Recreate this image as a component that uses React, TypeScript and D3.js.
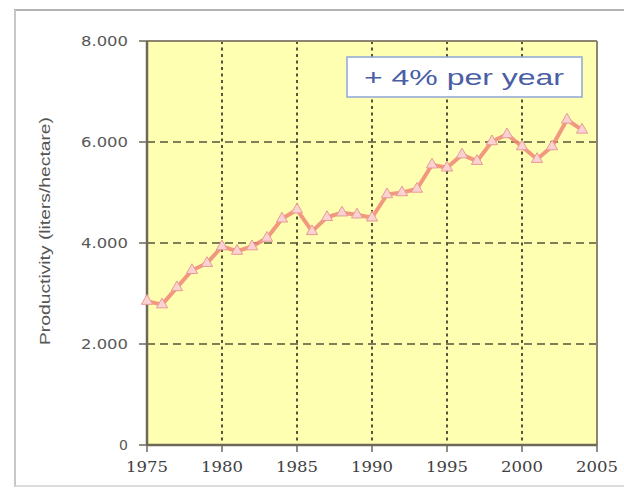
import React from "react";
import * as d3 from "d3";

const years = [1975,1976,1977,1978,1979,1980,1981,1982,1983,1984,1985,1986,1987,1988,1989,1990,1991,1992,1993,1994,1995,1996,1997,1998,1999,2000,2001,2002,2003,2004];
const productivity = [2850,2780,3120,3460,3600,3930,3840,3930,4100,4480,4660,4230,4510,4600,4560,4500,4960,5000,5070,5550,5490,5750,5620,6010,6150,5910,5660,5910,6440,6240];
const xTicks = [1975,1980,1985,1990,1995,2000,2005];
const yTicks = [0,2000,4000,6000,8000];
const yTickLabels = ["0","2.000","4.000","6.000","8.000"];
const yTitle = "Productivity (liters/hectare)";
const legendText = "+ 4% per year";

export default function App() {
  const W = 624, H = 488;
  const left = 147, right = 597, top = 41, bottom = 445;
  const x = d3.scaleLinear().domain([1975, 2005]).range([left, right]);
  const y = d3.scaleLinear().domain([0, 8000]).range([bottom, top]);
  const pts = years.map((yr, i) => [x(yr), y(productivity[i])] as [number, number]);
  const line = d3.line()(pts) || "";
  const tri = d3.symbol().type(d3.symbolTriangle).size(55)() || "";
  const grid = "#55553a";
  return (
    <svg width={W} height={H} style={{ position: "absolute", left: 0, top: 0, background: "#fff" }}>
      {/* outer frame */}
      <line x1={14} x2={624} y1={10} y2={10} stroke="#b4b4b4" strokeWidth={2} />
      <line x1={15} x2={15} y1={10} y2={487} stroke="#c8c8c8" strokeWidth={2} />
      <line x1={14} x2={624} y1={486} y2={486} stroke="#d0d0d0" strokeWidth={1.5} />
      {/* plot area */}
      <rect x={left} y={top} width={right - left} height={bottom - top} fill="#ffffb2" />
      {/* grid */}
      {yTicks.filter(t => t > 0 && t < 8000).map(t => (
        <line key={"h" + t} x1={left} x2={right} y1={y(t)} y2={y(t)} stroke={grid} strokeWidth={1.6} strokeDasharray="8,5" />
      ))}
      {xTicks.filter(t => t > 1975 && t < 2005).map(t => (
        <line key={"v" + t} x1={x(t)} x2={x(t)} y1={top} y2={bottom} stroke={grid} strokeWidth={2} strokeDasharray="3,3.5" />
      ))}
      {/* frame of plot */}
      <line x1={left} x2={right} y1={top} y2={top} stroke="#8c8670" strokeWidth={2} />
      <line x1={right} x2={right} y1={top} y2={bottom} stroke="#8c8670" strokeWidth={2} />
      <line x1={left} x2={left} y1={top} y2={bottom} stroke="#6e6858" strokeWidth={2.5} />
      <line x1={left} x2={right} y1={bottom} y2={bottom} stroke="#6e6858" strokeWidth={2.5} />
      {/* ticks */}
      {yTicks.map((t, i) => (
        <g key={"yt" + t}>
          <line x1={left - 8} x2={left} y1={y(t)} y2={y(t)} stroke="#6e6858" strokeWidth={1.5} />
          <text x={128} y={y(t) + 5} textAnchor="end" fontFamily="DejaVu Sans" fontSize={14} fill="#585858"
            textLength={yTickLabels[i].length > 1 ? 47 : undefined} lengthAdjust="spacingAndGlyphs">{yTickLabels[i]}</text>
        </g>
      ))}
      {xTicks.map(t => (
        <g key={"xt" + t}>
          <line x1={x(t)} x2={x(t)} y1={bottom} y2={bottom + 7} stroke="#6e6858" strokeWidth={1.5} />
          <text x={x(t)} y={472} textAnchor="middle" fontFamily="DejaVu Serif" fontSize={15} fill="#404040"
            textLength={42} lengthAdjust="spacingAndGlyphs">{t}</text>
        </g>
      ))}
      {/* y title */}
      <text transform={`translate(50,231) rotate(-90)`} textAnchor="middle" fontFamily="Liberation Sans" fontSize={15} fill="#555"
        textLength={228} lengthAdjust="spacingAndGlyphs">{yTitle}</text>
      {/* series */}
      <path d={line} fill="none" stroke="#f08676" strokeWidth={4} strokeOpacity={0.85} strokeLinejoin="round" />
      {pts.map((p, i) => (
        <path key={"m" + i} d={tri} transform={`translate(${p[0]},${p[1]})`} fill="#fad2d2" stroke="#e89a96" strokeWidth={1} />
      ))}
      {/* legend box */}
      <rect x={347} y={57} width={235} height={40} fill="#ffffff" stroke="#8fa6d6" strokeWidth={1.5} />
      <text x={464} y={85} textAnchor="middle" fontFamily="Liberation Sans" fontSize={22} fill="#4a5ea6"
        textLength={200} lengthAdjust="spacingAndGlyphs">{legendText}</text>
    </svg>
  );
}
